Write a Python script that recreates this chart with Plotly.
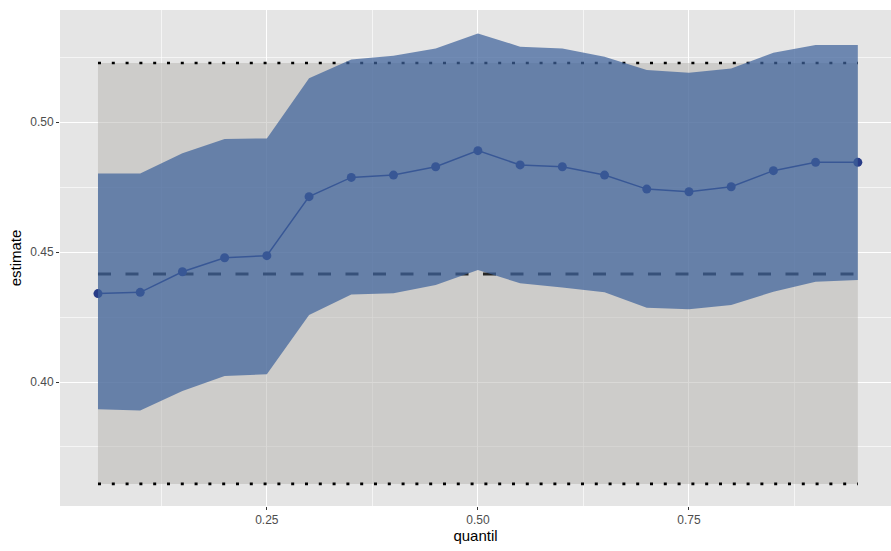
import plotly.graph_objects as go

# ---- data ----
quantil = [0.05, 0.10, 0.15, 0.20, 0.25, 0.30, 0.35, 0.40, 0.45, 0.50,
           0.55, 0.60, 0.65, 0.70, 0.75, 0.80, 0.85, 0.90, 0.95]
estimate = [0.4340, 0.4345, 0.4424, 0.4478, 0.4486, 0.4713, 0.4787, 0.4796, 0.4828, 0.4890,
            0.4835, 0.4828, 0.4796, 0.4742, 0.4732, 0.4751, 0.4813, 0.4845, 0.4845]
upper = [0.4802, 0.4802, 0.4880, 0.4935, 0.4937, 0.5168, 0.5241, 0.5255, 0.5283, 0.5341,
         0.5290, 0.5283, 0.5251, 0.5200, 0.5190, 0.5206, 0.5267, 0.5296, 0.5296]
lower = [0.3895, 0.3890, 0.3965, 0.4023, 0.4030, 0.4258, 0.4337, 0.4341, 0.4373, 0.4431,
         0.4380, 0.4364, 0.4345, 0.4286, 0.4280, 0.4296, 0.4347, 0.4386, 0.4392]
ols_estimate = 0.4415
ols_lower = 0.3608
ols_upper = 0.5227

x_ticks = [0.25, 0.50, 0.75]
x_ticklabels = ["0.25", "0.50", "0.75"]
y_ticks = [0.40, 0.45, 0.50]
y_ticklabels = ["0.40", "0.45", "0.50"]

FONT = "Liberation Sans, Arial, sans-serif"
xmin, xmax = quantil[0], quantil[-1]

fig = go.Figure()

# OLS confidence band (grey)
fig.add_trace(go.Scatter(
    x=[xmin, xmax, xmax, xmin], y=[ols_lower, ols_lower, ols_upper, ols_upper],
    fill="toself", fillcolor="rgba(182,179,176,0.5)", line=dict(width=0),
    mode="lines", hoverinfo="skip", showlegend=False))

# OLS bounds (dotted) and estimate (dashed)
for yv in (ols_lower, ols_upper):
    fig.add_trace(go.Scatter(
        x=[xmin, xmax], y=[yv, yv], mode="lines",
        line=dict(color="black", width=2.6, dash="3px,10.8px"),
        showlegend=False, hoverinfo="skip"))
fig.add_trace(go.Scatter(
    x=[xmin, xmax], y=[ols_estimate, ols_estimate], mode="lines",
    line=dict(color="#262626", width=3, dash="13px,14.5px"),
    showlegend=False, hoverinfo="skip"))

# quantile estimates
fig.add_trace(go.Scatter(
    x=quantil, y=estimate, mode="lines+markers",
    line=dict(color="rgb(40,60,135)", width=1.5),
    marker=dict(color="rgb(40,60,135)", size=9),
    showlegend=False))

# quantile confidence band (blue, semi-transparent, on top)
fig.add_trace(go.Scatter(
    x=quantil + quantil[::-1], y=upper + lower[::-1],
    fill="toself", fillcolor="rgba(62,98,155,0.72)", line=dict(width=0),
    mode="lines", hoverinfo="skip", showlegend=False))

axis_common = dict(
    showline=False, zeroline=False, automargin=False,
    gridcolor="white", gridwidth=1.1,
    ticks="outside", ticklen=3, tickwidth=1, tickcolor="#333333",
    tickfont=dict(family=FONT, size=12, color="#4d4d4d"),
    minor=dict(showgrid=True, gridcolor="rgba(255,255,255,0.6)", gridwidth=0.6, ticks=""),
)

fig.update_xaxes(
    range=[0.005, 0.9893], tickvals=x_ticks, ticktext=x_ticklabels,
    minor_dtick=0.125, minor_tick0=0.0,
    title=dict(text="quantil", font=dict(family=FONT, size=15, color="black"), standoff=2),
    **axis_common)
fig.update_yaxes(
    range=[0.3523, 0.5431], tickvals=y_ticks, ticktext=y_ticklabels,
    minor_dtick=0.025, minor_tick0=0.0,
    title=dict(text="estimate", font=dict(family=FONT, size=15, color="black"), standoff=4),
    **axis_common)

fig.update_layout(
    width=891, height=551,
    margin=dict(l=60, r=0, t=10, b=45, autoexpand=False),
    plot_bgcolor="#e5e5e5", paper_bgcolor="white",
    showlegend=False,
)

fig.write_html(
    "out.html",
    config={"displayModeBar": False},
    post_script="document.body.style.margin='0';document.body.style.overflow='hidden';",
)
